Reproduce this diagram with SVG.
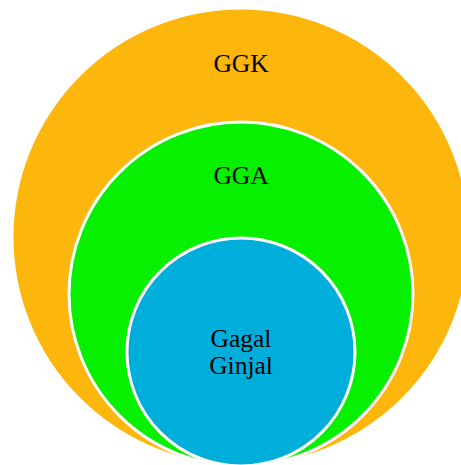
<svg xmlns="http://www.w3.org/2000/svg" width="461" height="465" viewBox="0 0 461 465">
  <style>
    .ring { stroke: #ffffff; stroke-width: 3; }
    .label { font-family: "Liberation Serif", "DejaVu Serif", serif; font-size: 25.5px; fill: #000000; text-anchor: middle; }
  </style>
  <rect width="461" height="465" fill="#ffffff"/>
  <g id="ggk">
    <circle class="ring" cx="241" cy="237" r="229" fill="#FDB60C"/>
    <text class="label" x="241" y="72">GGK</text>
  </g>
  <g id="gga">
    <circle class="ring" cx="241" cy="294" r="172" fill="#06F000"/>
    <text class="label" x="241" y="184">GGA</text>
  </g>
  <g id="gagal-ginjal">
    <circle class="ring" cx="241" cy="352" r="114" fill="#00AEDB"/>
    <text class="label" x="241" y="347">Gagal</text>
    <text class="label" x="241" y="374">Ginjal</text>
  </g>
  <g id="connectors"/>
</svg>
